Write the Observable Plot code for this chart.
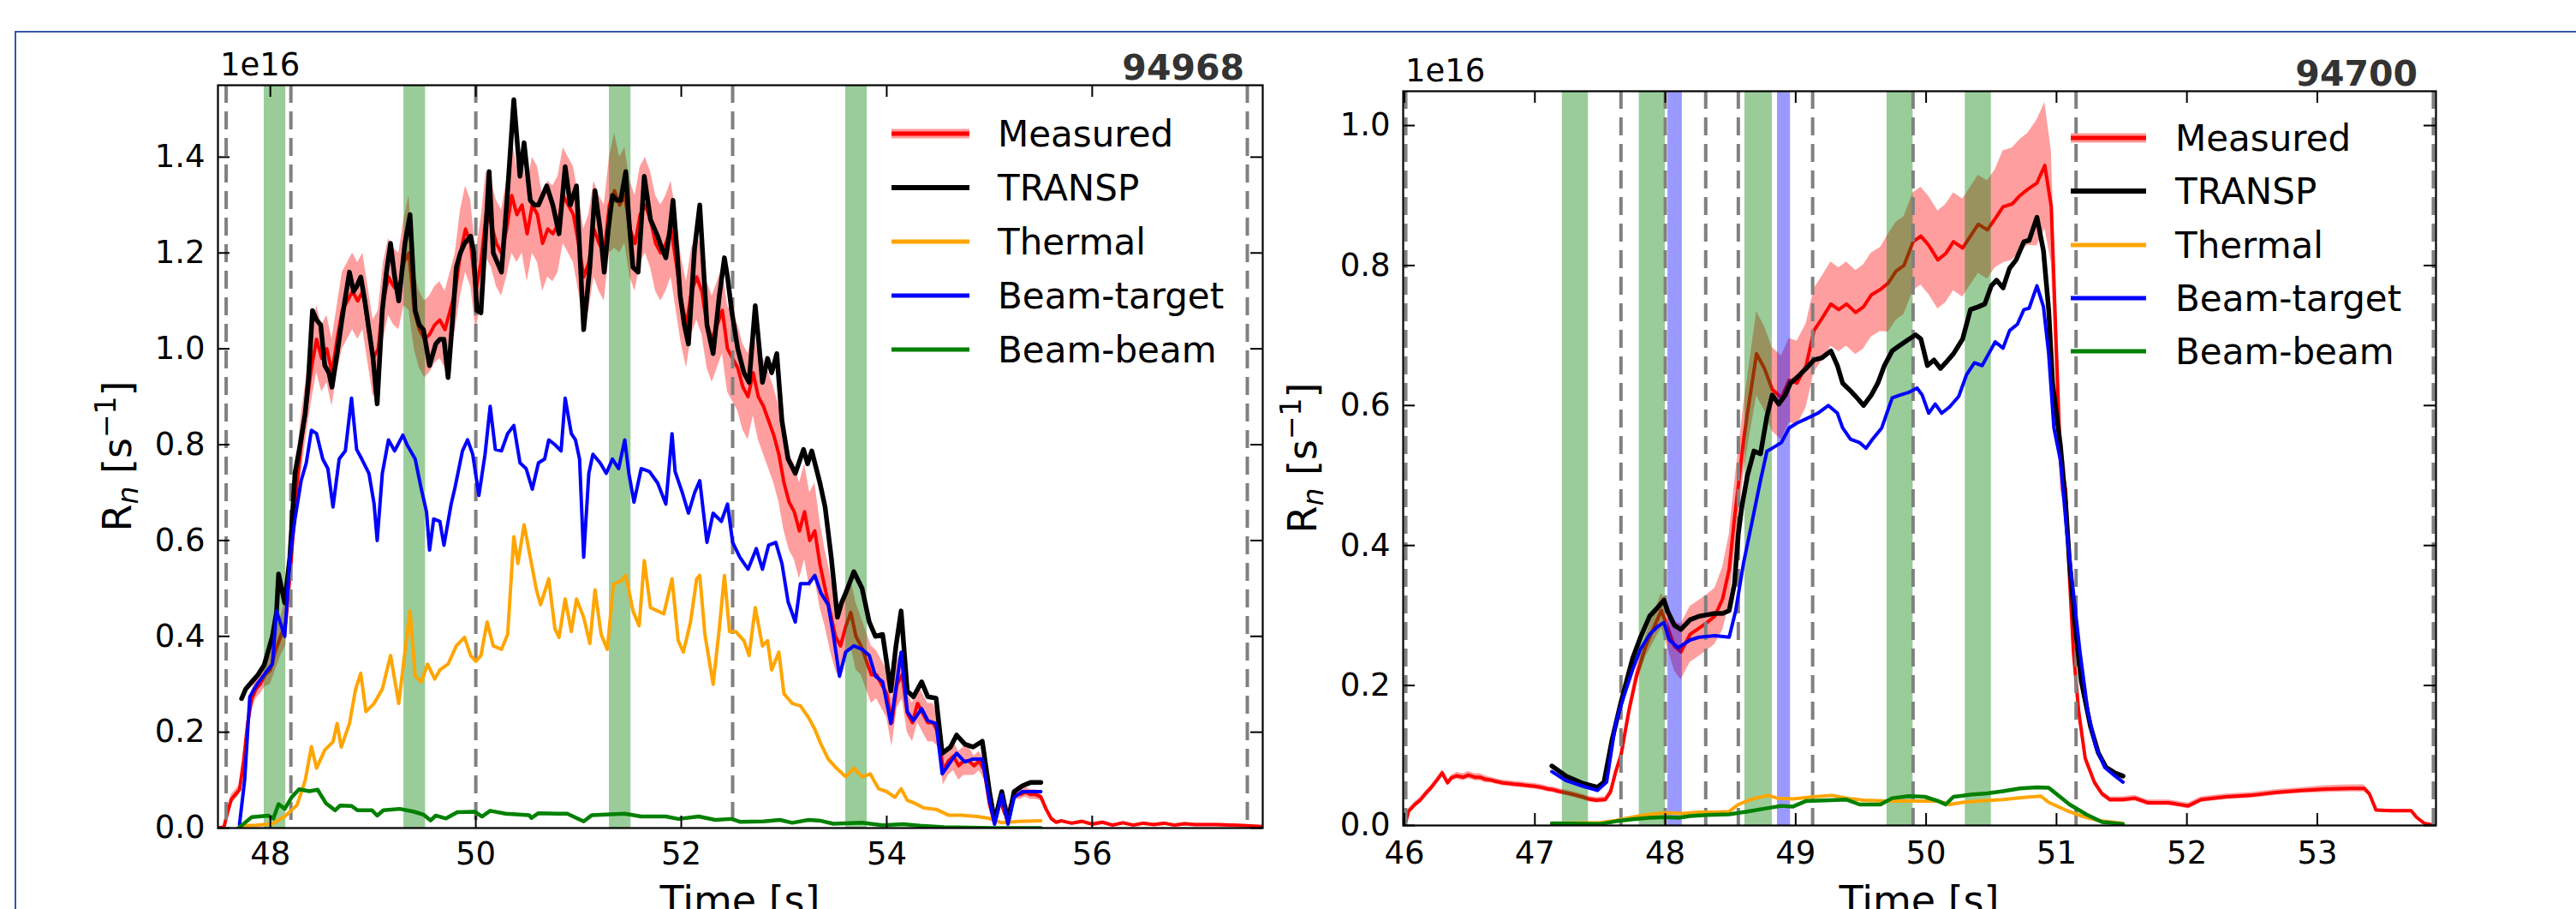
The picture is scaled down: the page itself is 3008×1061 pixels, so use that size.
<!DOCTYPE html>
<html><head><meta charset="utf-8">
<script src="https://cdn.jsdelivr.net/npm/d3@7"></script>
<script src="https://cdn.jsdelivr.net/npm/@observablehq/plot@0.6"></script>
<style>
html,body{margin:0;padding:0;background:#fff;width:3008px;height:1061px;overflow:hidden;}
#fig{position:relative;width:3008px;height:1061px;background:#fff;}
#border{position:absolute;left:17px;top:36px;width:3100px;height:1200px;border-left:2px solid #3358a8;border-top:2px solid #3358a8;z-index:0;}
.panel{position:absolute;top:0;z-index:1;}
</style></head><body><div id="fig"><div id="border"></div></div>
<script>
// ---------------- Shot 94968 (left) ----------------
const leftTitle = "94968";
const leftXTicks = [48, 50, 52, 54, 56];
const leftYTicks = [0, 0.2, 0.4, 0.6, 0.8, 1.0, 1.2, 1.4];
const leftGreenSpans = [[47.94, 48.15], [49.30, 49.51], [51.30, 51.51], [53.60, 53.81]];
const leftBlueSpans = [];
const leftDashes = [47.57, 48.20, 50.0, 52.5, 57.51];
// [time, value (1e16 s^-1), half-width of uncertainty band]
const leftMeasured = [
[47.49,0,0.002],[47.55,0.003,0.003],[47.58,0.03,0.008],[47.62,0.06,0.01],[47.66,0.07,0.01],[47.70,0.08,0.01],
[47.74,0.14,0.015],[47.78,0.22,0.02],[47.82,0.27,0.02],[47.86,0.29,0.02],[47.90,0.30,0.02],[47.95,0.32,0.025],
[48.00,0.33,0.03],[48.05,0.37,0.04],[48.10,0.40,0.04],[48.15,0.43,0.05],[48.20,0.55,0.05],[48.25,0.70,0.05],
[48.30,0.80,0.06],[48.35,0.88,0.06],[48.40,0.96,0.07],[48.45,1.02,0.07],[48.50,0.98,0.07],[48.55,1.00,0.07],
[48.60,0.95,0.07],[48.65,1.02,0.07],[48.70,1.08,0.08],[48.75,1.10,0.08],[48.80,1.12,0.08],[48.85,1.10,0.08],
[48.90,1.12,0.08],[48.95,1.05,0.08],[49.00,0.98,0.08],[49.05,1.00,0.08],[49.10,1.10,0.08],[49.15,1.15,0.08],
[49.20,1.13,0.08],[49.25,1.12,0.08],[49.30,1.18,0.09],[49.35,1.20,0.12],[49.40,1.08,0.08],[49.45,1.04,0.08],
[49.50,1.02,0.08],[49.55,1.03,0.08],[49.60,1.05,0.08],[49.65,1.06,0.08],[49.70,1.04,0.08],[49.75,1.08,0.08],
[49.80,1.12,0.08],[49.85,1.20,0.09],[49.90,1.25,0.09],[49.95,1.22,0.09],[50.00,1.12,0.08],[50.05,1.18,0.09],
[50.10,1.28,0.09],[50.15,1.26,0.09],[50.20,1.22,0.09],[50.25,1.20,0.09],[50.30,1.25,0.1],[50.35,1.32,0.12],
[50.40,1.28,0.1],[50.45,1.30,0.1],[50.50,1.24,0.1],[50.55,1.30,0.1],[50.60,1.28,0.1],[50.65,1.22,0.1],
[50.70,1.25,0.1],[50.75,1.24,0.1],[50.80,1.26,0.1],[50.85,1.32,0.1],[50.90,1.30,0.1],[50.95,1.28,0.1],
[51.00,1.22,0.1],[51.05,1.15,0.1],[51.10,1.18,0.1],[51.15,1.25,0.1],[51.20,1.22,0.1],[51.25,1.20,0.1],
[51.30,1.30,0.1],[51.35,1.33,0.12],[51.40,1.30,0.1],[51.45,1.32,0.1],[51.50,1.25,0.1],[51.55,1.22,0.1],
[51.60,1.28,0.1],[51.65,1.30,0.1],[51.70,1.27,0.1],[51.75,1.22,0.1],[51.80,1.20,0.1],[51.85,1.22,0.1],
[51.90,1.25,0.1],[51.95,1.18,0.1],[52.00,1.10,0.09],[52.05,1.05,0.09],[52.10,1.12,0.09],[52.15,1.15,0.09],
[52.20,1.12,0.09],[52.25,1.05,0.09],[52.30,1.02,0.09],[52.35,1.05,0.09],[52.40,1.08,0.09],[52.45,1.00,0.09],
[52.50,0.98,0.09],[52.55,0.96,0.09],[52.60,0.92,0.09],[52.65,0.90,0.09],[52.70,0.95,0.09],[52.75,0.90,0.09],
[52.80,0.88,0.1],[52.85,0.85,0.1],[52.90,0.82,0.1],[52.95,0.78,0.1],[53.00,0.72,0.1],[53.05,0.68,0.1],
[53.10,0.66,0.1],[53.15,0.62,0.1],[53.20,0.66,0.1],[53.25,0.60,0.1],[53.30,0.62,0.1],[53.35,0.55,0.09],
[53.40,0.50,0.08],[53.45,0.45,0.08],[53.50,0.40,0.07],[53.55,0.38,0.07],[53.60,0.42,0.07],[53.65,0.45,0.07],
[53.70,0.40,0.07],[53.75,0.38,0.06],[53.80,0.35,0.06],[53.85,0.32,0.06],[53.90,0.32,0.05],[53.95,0.30,0.05],
[54.00,0.28,0.05],[54.05,0.22,0.05],[54.10,0.30,0.05],[54.15,0.32,0.05],[54.20,0.24,0.04],[54.25,0.22,0.04],
[54.30,0.26,0.04],[54.35,0.24,0.04],[54.40,0.22,0.04],[54.45,0.22,0.04],[54.50,0.20,0.03],[54.55,0.12,0.03],
[54.60,0.14,0.03],[54.65,0.15,0.03],[54.70,0.13,0.03],[54.75,0.14,0.03],[54.80,0.14,0.03],[54.85,0.13,0.02],
[54.90,0.14,0.02],[54.95,0.12,0.02],[55.00,0.05,0.01],[55.05,0.01,0.005],[55.10,0.06,0.01],[55.15,0.03,0.01],
[55.20,0.04,0.01],[55.25,0.07,0.01],[55.30,0.07,0.01],[55.35,0.075,0.01],[55.40,0.07,0.01],[55.45,0.07,0.01],
[55.50,0.065,0.008],[55.55,0.04,0.005],[55.60,0.02,0.004],[55.65,0.012,0.003],[55.70,0.015,0.003],[55.80,0.01,0.003],
[55.90,0.014,0.003],[56.00,0.008,0.003],[56.10,0.012,0.003],[56.20,0.006,0.003],[56.30,0.011,0.003],[56.40,0.006,0.003],
[56.50,0.01,0.003],[56.60,0.007,0.003],[56.70,0.01,0.003],[56.80,0.006,0.003],[56.90,0.009,0.003],[57.00,0.007,0.003],
[57.20,0.007,0.003],[57.40,0.006,0.003],[57.50,0.005,0.002],[57.66,0.003,0.002]];
const leftTRANSP = [
[47.72,0.27],[47.76,0.29],[47.82,0.305],[47.88,0.32],[47.94,0.34],[47.98,0.37],[48.02,0.40],[48.06,0.45],[48.08,0.53],
[48.11,0.50],[48.14,0.47],[48.19,0.565],[48.24,0.74],[48.29,0.80],[48.34,0.866],[48.37,0.934],[48.41,1.08],[48.45,1.06],
[48.49,1.05],[48.53,0.965],[48.57,0.95],[48.60,0.92],[48.65,0.99],[48.71,1.08],[48.77,1.16],[48.81,1.12],[48.84,1.13],
[48.88,1.15],[48.92,1.10],[48.96,1.04],[49.00,0.98],[49.04,0.885],[49.09,1.08],[49.13,1.16],[49.17,1.22],[49.21,1.15],
[49.25,1.10],[49.31,1.22],[49.36,1.28],[49.41,1.08],[49.45,1.05],[49.49,1.04],[49.55,0.965],[49.61,1.01],[49.65,1.02],
[49.69,1.02],[49.73,0.94],[49.77,1.05],[49.81,1.17],[49.85,1.20],[49.89,1.22],[49.95,1.235],[49.98,1.20],[50.01,1.08],
[50.05,1.075],[50.09,1.22],[50.13,1.37],[50.17,1.20],[50.21,1.18],[50.25,1.16],[50.31,1.33],[50.37,1.52],[50.43,1.36],
[50.47,1.43],[50.53,1.31],[50.57,1.30],[50.61,1.30],[50.65,1.32],[50.69,1.34],[50.75,1.30],[50.81,1.24],[50.87,1.38],
[50.92,1.30],[50.98,1.34],[51.05,1.04],[51.11,1.17],[51.16,1.33],[51.21,1.25],[51.25,1.16],[51.29,1.25],[51.33,1.32],
[51.37,1.31],[51.41,1.31],[51.46,1.37],[51.49,1.27],[51.53,1.17],[51.58,1.16],[51.64,1.36],[51.70,1.27],[51.77,1.235],
[51.81,1.21],[51.85,1.19],[51.89,1.25],[51.92,1.31],[51.96,1.20],[51.99,1.11],[52.03,1.05],[52.07,1.01],[52.13,1.21],
[52.18,1.30],[52.25,1.05],[52.31,0.99],[52.37,1.11],[52.42,1.19],[52.45,1.15],[52.49,1.08],[52.55,1.00],[52.61,0.95],
[52.66,0.93],[52.72,1.09],[52.76,1.00],[52.79,0.93],[52.84,0.98],[52.88,0.95],[52.93,0.99],[52.98,0.85],[53.04,0.77],
[53.11,0.74],[53.19,0.79],[53.23,0.76],[53.27,0.787],[53.35,0.72],[53.40,0.67],[53.46,0.565],[53.52,0.44],[53.56,0.47],
[53.60,0.49],[53.68,0.535],[53.76,0.50],[53.83,0.43],[53.89,0.40],[53.96,0.404],[54.04,0.286],[54.09,0.38],[54.14,0.453],
[54.20,0.286],[54.26,0.274],[54.34,0.305],[54.40,0.274],[54.48,0.271],[54.54,0.156],[54.62,0.169],[54.68,0.194],
[54.76,0.175],[54.84,0.169],[54.93,0.181],[55.00,0.076],[55.05,0.014],[55.12,0.076],[55.18,0.014],[55.24,0.076],
[55.32,0.088],[55.40,0.095],[55.50,0.095]];
const leftThermal = [
[47.70,0.005],[47.86,0.006],[48.02,0.009],[48.14,0.024],[48.26,0.048],[48.34,0.10],[48.40,0.17],[48.45,0.125],[48.53,0.163],
[48.61,0.18],[48.65,0.218],[48.69,0.169],[48.77,0.218],[48.83,0.29],[48.88,0.323],[48.93,0.243],[49.01,0.26],[49.09,0.29],
[49.17,0.36],[49.25,0.26],[49.31,0.367],[49.36,0.453],[49.41,0.317],[49.47,0.305],[49.53,0.342],[49.60,0.311],[49.65,0.33],
[49.73,0.342],[49.81,0.38],[49.89,0.398],[49.95,0.36],[50.00,0.348],[50.05,0.36],[50.11,0.43],[50.17,0.38],[50.25,0.373],
[50.31,0.404],[50.37,0.608],[50.41,0.552],[50.47,0.633],[50.53,0.565],[50.59,0.497],[50.63,0.466],[50.71,0.52],[50.77,0.416],
[50.81,0.398],[50.87,0.478],[50.93,0.41],[50.98,0.478],[51.05,0.44],[51.11,0.385],[51.16,0.497],[51.22,0.404],[51.28,0.373],
[51.34,0.509],[51.41,0.515],[51.46,0.527],[51.53,0.453],[51.59,0.422],[51.64,0.558],[51.70,0.46],[51.77,0.453],[51.83,0.447],
[51.91,0.52],[51.97,0.391],[52.02,0.367],[52.09,0.43],[52.15,0.52],[52.18,0.527],[52.23,0.404],[52.31,0.30],[52.37,0.416],
[52.42,0.527],[52.47,0.41],[52.53,0.41],[52.61,0.391],[52.66,0.36],[52.72,0.46],[52.79,0.38],[52.84,0.391],[52.88,0.33],
[52.95,0.367],[53.00,0.28],[53.08,0.26],[53.16,0.255],[53.24,0.23],[53.30,0.206],[53.36,0.175],[53.43,0.144],[53.51,0.125],
[53.60,0.107],[53.68,0.125],[53.76,0.107],[53.84,0.113],[53.92,0.082],[54.00,0.076],[54.08,0.064],[54.14,0.082],[54.20,0.058],
[54.28,0.051],[54.36,0.042],[54.48,0.039],[54.60,0.027],[54.72,0.027],[54.88,0.024],[55.00,0.02],[55.12,0.011],[55.28,0.014],
[55.50,0.015]];
const leftBeamTarget = [
[47.70,0.008],[47.75,0.10],[47.80,0.274],[47.87,0.30],[47.95,0.323],[48.02,0.342],[48.06,0.453],[48.14,0.40],[48.19,0.565],
[48.24,0.645],[48.30,0.725],[48.35,0.762],[48.40,0.83],[48.45,0.823],[48.51,0.77],[48.56,0.75],[48.61,0.67],[48.67,0.77],
[48.73,0.787],[48.79,0.897],[48.84,0.79],[48.89,0.77],[48.96,0.74],[49.01,0.676],[49.04,0.60],[49.09,0.74],[49.15,0.81],
[49.21,0.787],[49.29,0.82],[49.33,0.80],[49.41,0.77],[49.47,0.707],[49.52,0.66],[49.55,0.58],[49.59,0.645],[49.65,0.64],
[49.69,0.59],[49.76,0.676],[49.80,0.713],[49.87,0.787],[49.92,0.81],[49.97,0.78],[50.03,0.694],[50.09,0.78],[50.14,0.88],
[50.19,0.79],[50.25,0.787],[50.31,0.823],[50.37,0.84],[50.43,0.762],[50.49,0.75],[50.55,0.707],[50.61,0.762],[50.67,0.77],
[50.71,0.81],[50.77,0.80],[50.83,0.787],[50.87,0.897],[50.93,0.823],[50.97,0.81],[51.01,0.77],[51.05,0.565],[51.10,0.74],
[51.14,0.78],[51.21,0.762],[51.27,0.74],[51.33,0.77],[51.39,0.75],[51.45,0.81],[51.49,0.74],[51.54,0.68],[51.61,0.75],
[51.69,0.744],[51.77,0.72],[51.85,0.676],[51.91,0.823],[51.94,0.744],[52.01,0.70],[52.07,0.657],[52.13,0.70],[52.18,0.725],
[52.25,0.596],[52.31,0.657],[52.39,0.64],[52.45,0.676],[52.50,0.596],[52.57,0.565],[52.65,0.54],[52.73,0.583],[52.79,0.54],
[52.85,0.59],[52.92,0.596],[52.98,0.552],[53.04,0.472],[53.11,0.43],[53.16,0.51],[53.24,0.51],[53.30,0.527],[53.36,0.49],
[53.43,0.466],[53.48,0.404],[53.54,0.317],[53.60,0.367],[53.68,0.38],[53.76,0.373],[53.83,0.36],[53.89,0.317],[53.96,0.305],
[54.04,0.218],[54.14,0.367],[54.20,0.243],[54.26,0.224],[54.34,0.249],[54.40,0.224],[54.48,0.218],[54.54,0.113],[54.62,0.138],
[54.68,0.156],[54.76,0.138],[54.84,0.144],[54.93,0.144],[55.00,0.058],[55.05,0.008],[55.12,0.07],[55.18,0.008],[55.24,0.064],
[55.32,0.076],[55.50,0.076]];
const leftBeamBeam = [
[47.69,0],[47.82,0.023],[47.98,0.026],[48.03,0.020],[48.08,0.05],[48.14,0.04],[48.21,0.065],[48.28,0.081],[48.38,0.077],
[48.46,0.08],[48.54,0.052],[48.63,0.037],[48.68,0.047],[48.79,0.046],[48.85,0.037],[48.99,0.037],[49.04,0.026],[49.10,0.037],
[49.26,0.04],[49.40,0.034],[49.49,0.028],[49.56,0.016],[49.61,0.026],[49.71,0.02],[49.82,0.033],[49.99,0.034],[50.06,0.024],
[50.14,0.036],[50.29,0.03],[50.52,0.027],[50.54,0.021],[50.61,0.031],[50.79,0.03],[50.89,0.03],[51.05,0.014],[51.13,0.027],
[51.45,0.03],[51.61,0.024],[51.85,0.024],[51.97,0.019],[52.17,0.024],[52.33,0.017],[52.49,0.019],[52.57,0.013],[52.80,0.014],
[52.96,0.017],[53.08,0.011],[53.24,0.017],[53.36,0.015],[53.48,0.009],[53.76,0.011],[53.96,0.006],[54.16,0.008],[54.32,0.005],
[54.56,0.002],[55.04,0.0],[55.50,0.0]];

// ---------------- Shot 94700 (right) ----------------
const rightTitle = "94700";
const rightXTicks = [46, 47, 48, 49, 50, 51, 52, 53];
const rightYTicks = [0, 0.2, 0.4, 0.6, 0.8, 1.0];
const rightGreenSpans = [[47.21, 47.41], [47.80, 48.0], [48.61, 48.82], [49.70, 49.90], [50.30, 50.50]];
const rightBlueSpans = [[48.02, 48.13], [48.86, 48.96]];
const rightDashes = [46.01, 47.66, 48.0, 48.31, 48.56, 49.13, 49.90, 51.15, 53.89];
const rightMeasured = [
[45.99,0,0.002],[46.01,0.005,0.003],[46.03,0.02,0.004],[46.08,0.03,0.004],[46.12,0.036,0.004],[46.16,0.045,0.004],
[46.20,0.053,0.004],[46.25,0.065,0.004],[46.29,0.075,0.005],[46.33,0.061,0.004],[46.36,0.068,0.004],[46.40,0.071,0.005],
[46.45,0.069,0.005],[46.49,0.072,0.005],[46.54,0.069,0.005],[46.58,0.069,0.005],[46.62,0.066,0.005],[46.66,0.065,0.004],
[46.70,0.063,0.004],[46.75,0.061,0.004],[46.80,0.060,0.004],[46.84,0.059,0.004],[46.90,0.058,0.004],[46.95,0.057,0.004],
[47.00,0.056,0.004],[47.06,0.054,0.004],[47.10,0.052,0.004],[47.14,0.051,0.004],[47.18,0.049,0.004],[47.23,0.047,0.004],
[47.28,0.045,0.004],[47.32,0.043,0.004],[47.36,0.041,0.004],[47.41,0.038,0.004],[47.47,0.036,0.004],[47.54,0.037,0.004],
[47.58,0.048,0.005],[47.62,0.077,0.006],[47.66,0.10,0.008],[47.72,0.163,0.01],[47.78,0.214,0.012],[47.85,0.256,0.015],
[47.91,0.282,0.02],[47.97,0.307,0.025],[48.02,0.282,0.03],[48.07,0.256,0.035],[48.12,0.248,0.04],[48.19,0.273,0.04],
[48.26,0.282,0.04],[48.32,0.29,0.04],[48.38,0.299,0.04],[48.44,0.324,0.045],[48.49,0.366,0.05],[48.53,0.438,0.05],
[48.57,0.501,0.05],[48.60,0.55,0.05],[48.63,0.589,0.05],[48.70,0.674,0.06],[48.76,0.653,0.06],[48.82,0.623,0.06],
[48.89,0.611,0.06],[48.95,0.636,0.06],[49.01,0.632,0.06],[49.08,0.657,0.06],[49.14,0.707,0.06],[49.20,0.724,0.06],
[49.27,0.745,0.06],[49.33,0.737,0.06],[49.39,0.745,0.06],[49.46,0.733,0.06],[49.52,0.741,0.06],[49.58,0.758,0.06],
[49.65,0.766,0.06],[49.71,0.775,0.07],[49.77,0.792,0.07],[49.83,0.80,0.07],[49.90,0.834,0.07],[49.96,0.842,0.07],
[50.02,0.829,0.07],[50.09,0.808,0.07],[50.15,0.817,0.07],[50.21,0.834,0.07],[50.28,0.825,0.07],[50.34,0.842,0.07],
[50.40,0.859,0.07],[50.47,0.851,0.07],[50.53,0.867,0.07],[50.59,0.884,0.08],[50.66,0.888,0.08],[50.72,0.90,0.08],
[50.78,0.909,0.08],[50.85,0.918,0.09],[50.91,0.943,0.09],[50.96,0.884,0.08],[51.00,0.674,0.06],[51.03,0.52,0.04],
[51.07,0.48,0.03],[51.10,0.353,0.02],[51.13,0.248,0.015],[51.17,0.163,0.01],[51.22,0.096,0.006],[51.29,0.062,0.005],
[51.35,0.045,0.004],[51.41,0.037,0.004],[51.51,0.037,0.004],[51.60,0.039,0.004],[51.70,0.0325,0.004],[51.86,0.0325,0.004],
[52.01,0.028,0.004],[52.11,0.037,0.004],[52.30,0.041,0.004],[52.49,0.043,0.004],[52.68,0.047,0.004],[52.87,0.050,0.004],
[53.06,0.052,0.005],[53.25,0.053,0.005],[53.36,0.053,0.005],[53.40,0.045,0.003],[53.45,0.022,0.002],[53.56,0.021,0.002],
[53.72,0.021,0.002],[53.76,0.012,0.002],[53.82,0.003,0.001],[53.91,0.0,0.001]];
const rightTRANSP = [
[47.13,0.085],[47.24,0.0705],[47.37,0.06],[47.48,0.0545],[47.53,0.062],[47.59,0.121],[47.66,0.176],[47.75,0.239],[47.81,0.269],
[47.88,0.299],[47.94,0.311],[47.99,0.322],[48.02,0.305],[48.07,0.286],[48.12,0.28],[48.19,0.294],[48.26,0.299],[48.32,0.301],
[48.38,0.303],[48.44,0.303],[48.49,0.307],[48.53,0.345],[48.56,0.417],[48.59,0.459],[48.63,0.50],[48.68,0.535],[48.73,0.531],
[48.78,0.585],[48.82,0.615],[48.87,0.602],[48.92,0.615],[48.96,0.632],[49.01,0.64],[49.08,0.653],[49.14,0.665],[49.20,0.668],
[49.27,0.678],[49.32,0.657],[49.36,0.632],[49.42,0.621],[49.47,0.611],[49.52,0.60],[49.58,0.615],[49.63,0.632],[49.68,0.657],
[49.74,0.678],[49.80,0.686],[49.87,0.695],[49.92,0.701],[49.96,0.695],[50.01,0.657],[50.06,0.665],[50.11,0.653],[50.15,0.661],
[50.21,0.674],[50.28,0.695],[50.34,0.737],[50.40,0.741],[50.45,0.745],[50.50,0.771],[50.54,0.779],[50.59,0.768],[50.64,0.796],
[50.69,0.808],[50.75,0.834],[50.79,0.836],[50.85,0.869],[50.90,0.821],[50.94,0.737],[50.97,0.632],[51.03,0.543],[51.07,0.459],
[51.10,0.375],[51.14,0.29],[51.19,0.206],[51.26,0.142],[51.32,0.104],[51.38,0.083],[51.45,0.075],[51.51,0.0705]];
const rightThermal = [
[47.13,0.003],[47.50,0.004],[47.62,0.007],[47.75,0.012],[47.88,0.016],[48.00,0.018],[48.13,0.017],[48.26,0.019],[48.38,0.019],
[48.49,0.02],[48.56,0.030],[48.67,0.038],[48.79,0.043],[48.86,0.039],[48.98,0.038],[49.14,0.041],[49.28,0.043],[49.39,0.039],
[49.52,0.036],[49.71,0.035],[49.90,0.035],[50.09,0.035],[50.18,0.030],[50.28,0.033],[50.40,0.035],[50.59,0.037],[50.75,0.040],
[50.88,0.042],[50.94,0.033],[51.07,0.022],[51.19,0.0135],[51.32,0.007],[51.51,0.003]];
const rightBeamTarget = [
[47.13,0.077],[47.24,0.064],[47.37,0.056],[47.48,0.050],[47.55,0.062],[47.62,0.147],[47.69,0.189],[47.75,0.223],[47.81,0.252],
[47.88,0.273],[47.94,0.284],[47.99,0.29],[48.03,0.265],[48.10,0.254],[48.19,0.265],[48.26,0.269],[48.38,0.271],[48.49,0.269],
[48.54,0.307],[48.60,0.375],[48.67,0.438],[48.73,0.493],[48.78,0.535],[48.82,0.539],[48.89,0.547],[48.95,0.568],[49.01,0.575],
[49.08,0.581],[49.17,0.589],[49.25,0.60],[49.32,0.589],[49.36,0.568],[49.42,0.552],[49.49,0.547],[49.54,0.539],[49.59,0.552],
[49.66,0.568],[49.74,0.611],[49.80,0.615],[49.87,0.619],[49.93,0.625],[49.97,0.615],[50.02,0.589],[50.07,0.602],[50.12,0.589],
[50.18,0.598],[50.25,0.613],[50.31,0.644],[50.37,0.661],[50.43,0.657],[50.48,0.674],[50.53,0.691],[50.59,0.682],[50.64,0.707],
[50.70,0.716],[50.75,0.737],[50.79,0.739],[50.85,0.771],[50.90,0.741],[50.94,0.674],[50.98,0.568],[51.03,0.522],[51.08,0.417],
[51.13,0.332],[51.18,0.248],[51.24,0.163],[51.30,0.113],[51.37,0.083],[51.45,0.0705],[51.51,0.062]];
const rightBeamBeam = [
[47.13,0.003],[47.50,0.002],[47.62,0.006],[47.75,0.009],[47.88,0.011],[48.00,0.012],[48.10,0.011],[48.19,0.0135],[48.32,0.015],
[48.49,0.016],[48.63,0.02],[48.76,0.024],[48.89,0.028],[48.98,0.027],[49.08,0.035],[49.27,0.036],[49.39,0.037],[49.49,0.030],
[49.65,0.030],[49.74,0.039],[49.87,0.042],[49.99,0.041],[50.09,0.035],[50.15,0.030],[50.21,0.041],[50.34,0.044],[50.47,0.046],
[50.59,0.049],[50.72,0.053],[50.85,0.0545],[50.94,0.054],[51.00,0.045],[51.10,0.030],[51.23,0.0156],[51.35,0.005],[51.51,0.002]];

const legendNames = ["Measured", "TRANSP", "Thermal", "Beam-target", "Beam-beam"];
const seriesColors = ["#ff0000", "#000000", "#ffa500", "#0000ff", "#008000"];
const seriesWidths = [4, 5.5, 4, 4, 4.5];

function panel(cfg) {
  const {W, H, mL, mR, mT, mB, xdom, ydom, xticks, yticks, green, blue, dashes,
         meas, transp, thermal, bt, bb, title, xPad, legX, legTextX, legY} = cfg;
  const plotH = H - mT - mB, plotW = W - mL - mR;
  const md = meas.map(([t, v, e]) => ({t, v, lo: Math.max(0, v - e), hi: v + e}));
  const pts = a => a.map(([t, v]) => ({t, v}));
  const series = [transp, thermal, bt, bb];
  const chart = Plot.plot({
    width: W, height: H, marginLeft: mL, marginRight: mR, marginTop: mT, marginBottom: mB,
    x: {domain: xdom}, y: {domain: ydom},
    style: {fontFamily: "DejaVu Sans", fontSize: "37px", background: "transparent", color: "black", overflow: "visible"},
    marks: [
      Plot.areaY(md, {x: "t", y1: "lo", y2: "hi", fill: "#ff0000", fillOpacity: 0.38, clip: true}),
      Plot.line(md, {x: "t", y: "v", stroke: seriesColors[0], strokeWidth: seriesWidths[0], strokeLinejoin: "round", clip: true}),
      Plot.rect(green, {x1: d => d[0], x2: d => d[1], y1: () => ydom[0], y2: () => ydom[1], fill: "#008000", fillOpacity: 0.4}),
      Plot.rect(blue, {x1: d => d[0], x2: d => d[1], y1: () => ydom[0], y2: () => ydom[1], fill: "#0000ff", fillOpacity: 0.4}),
      Plot.ruleX(dashes, {x: d => d, stroke: "#808080", strokeWidth: 4, strokeDasharray: "21,10", clip: true}),
      ...series.map((s, i) => Plot.line(pts(s), {x: "t", y: "v", stroke: seriesColors[i + 1], strokeWidth: seriesWidths[i + 1], strokeLinejoin: "round", clip: true})),
      Plot.frame({stroke: "black", strokeWidth: 2.2}),
      Plot.tickX(xticks, {x: d => d, insetTop: plotH - 14, stroke: "black", strokeWidth: 2}),
      Plot.tickX(xticks, {x: d => d, insetBottom: plotH - 14, stroke: "black", strokeWidth: 2}),
      Plot.tickY(yticks, {y: d => d, insetRight: plotW - 14, stroke: "black", strokeWidth: 2}),
      Plot.tickY(yticks, {y: d => d, insetLeft: plotW - 14, stroke: "black", strokeWidth: 2}),
      Plot.axisX(xticks, {tickSize: 0, tickPadding: xPad, fontSize: 37, label: null, tickFormat: d => String(d)}),
      Plot.axisY(yticks, {tickSize: 0, tickPadding: 15, fontSize: 37, label: null, tickFormat: d3.format(".1f")})
    ]
  });
  const svg = d3.select(chart);
  const ns = "DejaVu Sans";
  svg.append("text").attr("x", mL + 3).attr("y", mT - 11).attr("text-anchor", "start").attr("font-family", ns)
    .attr("font-size", 37).attr("fill", "black").text("1e16");
  svg.append("text").attr("x", W - mR - 21).attr("y", mT - 6).attr("text-anchor", "end")
    .attr("font-family", ns).attr("font-size", 41).attr("font-weight", "bold").attr("fill", "#333333").text(title);
  // y label
  const yl = svg.append("text").attr("transform", `translate(${mL - 101},${(mT + H - mB) / 2}) rotate(-90)`)
    .attr("text-anchor", "middle").attr("font-family", ns).attr("font-size", 46).attr("fill", "black");
  yl.append("tspan").text("R");
  yl.append("tspan").attr("font-size", 33).attr("font-style", "italic").attr("dy", 8).text("n");
  yl.append("tspan").attr("dy", -8).text(" [s");
  yl.append("tspan").attr("font-size", 33).attr("dy", -18).text("\u22121");
  yl.append("tspan").attr("dy", 18).text("]");
  // x label
  svg.append("text").attr("x", (mL + W - mR) / 2).attr("y", H + 6).attr("text-anchor", "middle")
    .attr("font-family", ns).attr("font-size", 46).attr("fill", "black").text("Time [s]");
  // legend
  const lg = svg.append("g");
  legendNames.forEach((name, i) => {
    const y = legY[i];
    if (i === 0) lg.append("line").attr("x1", legX[0]).attr("x2", legX[1]).attr("y1", y).attr("y2", y)
      .attr("stroke", "#ff9999").attr("stroke-width", 11);
    lg.append("line").attr("x1", legX[0]).attr("x2", legX[1]).attr("y1", y).attr("y2", y)
      .attr("stroke", seriesColors[i]).attr("stroke-width", i === 1 ? 6 : 5);
    lg.append("text").attr("x", legTextX).attr("y", y).attr("dy", "0.36em").attr("text-anchor", "start")
      .attr("font-family", ns).attr("font-size", 42).attr("fill", "black").text(name);
  });
  return chart;
}

const fig = document.getElementById("fig");
const left = panel({W: 1504, H: 1061, mL: 254, mR: 30, mT: 99, mB: 95,
  xdom: [47.49, 57.66], ydom: [0, 1.55], xticks: leftXTicks, yticks: leftYTicks,
  green: leftGreenSpans, blue: leftBlueSpans, dashes: leftDashes,
  meas: leftMeasured, transp: leftTRANSP, thermal: leftThermal, bt: leftBeamTarget, bb: leftBeamBeam,
  title: leftTitle, xPad: 16, legX: [1041, 1132], legTextX: 1165, legY: [156, 219, 282, 345, 408]});
left.classList.add("panel"); left.style.left = "0px";
fig.appendChild(left);
const right = panel({W: 1504, H: 1061, mL: 134, mR: 164, mT: 106, mB: 98,
  xdom: [45.99, 53.91], ydom: [0, 1.049], xticks: rightXTicks, yticks: rightYTicks,
  green: rightGreenSpans, blue: rightBlueSpans, dashes: rightDashes,
  meas: rightMeasured, transp: rightTRANSP, thermal: rightThermal, bt: rightBeamTarget, bb: rightBeamBeam,
  title: rightTitle, xPad: 18, legX: [914, 1002], legTextX: 1036, legY: [161, 223, 286, 348, 410]});
right.classList.add("panel"); right.style.left = "1504px";
fig.appendChild(right);
</script></body></html>
